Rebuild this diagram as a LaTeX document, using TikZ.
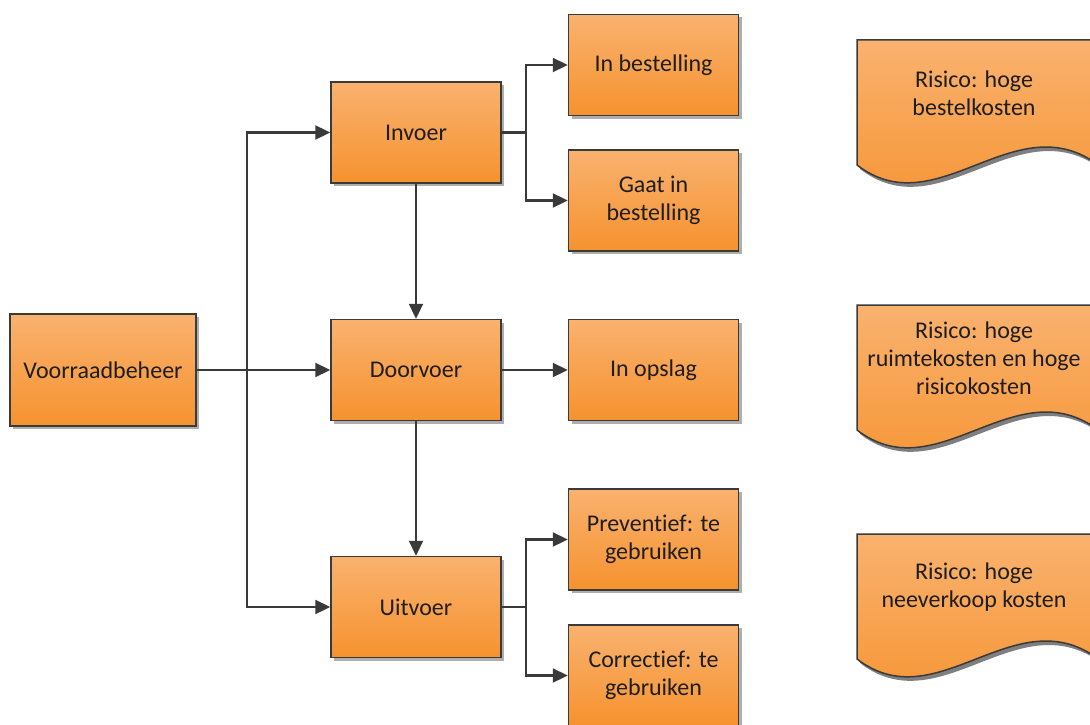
\documentclass[tikz,border=0pt]{standalone}
\usepackage{fontspec}
\setmainfont[Ligatures=NoCommon]{Carlito}
\usetikzlibrary{arrows.meta,shadows}

\definecolor{orangetop}{HTML}{F9B26F}
\definecolor{orangebot}{HTML}{F6922F}
\definecolor{edgegray}{HTML}{3A3A3A}
\definecolor{inkgray}{HTML}{1E1E1E}

\tikzset{
  stepbox/.style={draw=edgegray, line width=1.5pt, top color=orangetop, bottom color=orangebot,
    minimum width=170pt, minimum height=101pt, inner sep=0pt, align=center,
    text=inkgray, font=\fontsize{24}{28}\selectfont,
    drop shadow={shadow xshift=3pt, shadow yshift=-3pt, opacity=0.45, fill=black!70}},
  link/.style={draw=edgegray, line width=2.3pt, -{Triangle[length=15pt,width=14pt]}},
  plainlink/.style={draw=edgegray, line width=2.3pt},
  risktext/.style={align=center, text=inkgray, font=\fontsize{24}{28}\selectfont, inner sep=0pt},
}

% document-shaped note with a wavy bottom edge, top left corner at (857,#1)
\newcommand\riskdoc[3]{%
  \begin{scope}[shift={(857,#1)}]
    \fill[black, opacity=0.5] ([shift={(3,4)}]0,0) -- ++(234,0) -- ++(0,120)
      .. controls ([shift={(3,4)}]153,70) and ([shift={(3,4)}]78,185) .. ([shift={(3,4)}]0,125) -- cycle;
    \path[draw=edgegray, line width=1.5pt, top color=orangetop, bottom color=orangebot]
      (0,0) -- (234,0) -- (234,120) .. controls (153,70) and (78,185) .. (0,125) -- cycle;
    \node[risktext] (#2) at (117,53) {#3};
  \end{scope}}

\begin{document}
\begin{tikzpicture}[x=1pt, y=-1pt]
  \useasboundingbox (0,0) rectangle (1090,725);

  % main process boxes
  \node[stepbox, minimum width=186pt, minimum height=112pt] (vb) at (103,370) {Voorraadbeheer};
  \node[stepbox] (invoer)   at (416,132.5) {Invoer};
  \node[stepbox] (doorvoer) at (416,370)   {Doorvoer};
  \node[stepbox] (uitvoer)  at (416,607)   {Uitvoer};

  % detail boxes
  \node[stepbox] (inbest)  at (653.5,65)    {In bestelling};
  \node[stepbox] (gaatin)  at (653.5,200.5) {Gaat in\\bestelling};
  \node[stepbox] (opslag)  at (653.5,370)   {In opslag};
  \node[stepbox] (prev)    at (653.5,539.5) {Preventief: te\\gebruiken};
  \node[stepbox] (corr)    at (653.5,675.5) {Correctief: te\\gebruiken};

  % risk notes
  \riskdoc{40}{risk1}{Risico: hoge\\bestelkosten}
  \riskdoc{305}{risk2}{Risico: hoge\\ruimtekosten en hoge\\risicokosten}
  \riskdoc{534}{risk3}{Risico: hoge\\neeverkoop kosten}

  % junction points of the connectors
  \coordinate (trunk) at (247,370);
  \coordinate (splitin) at (526,132.5);
  \coordinate (splituit) at (526,607);

  % connectors
  \draw[link] (vb.east) -- (doorvoer.west);
  \draw[link] (trunk) |- (invoer.west);
  \draw[link] (trunk) |- (uitvoer.west);
  \draw[link] (invoer.south) -- (doorvoer.north);
  \draw[link] (doorvoer.south) -- (uitvoer.north);
  \draw[link] (doorvoer.east) -- (opslag.west);

  \draw[plainlink] (invoer.east) -- (splitin);
  \draw[link] (splitin) |- (inbest.west);
  \draw[link] (splitin) |- (gaatin.west);

  \draw[plainlink] (uitvoer.east) -- (splituit);
  \draw[link] (splituit) |- (prev.west);
  \draw[link] (splituit) |- (corr.west);
\end{tikzpicture}
\end{document}
